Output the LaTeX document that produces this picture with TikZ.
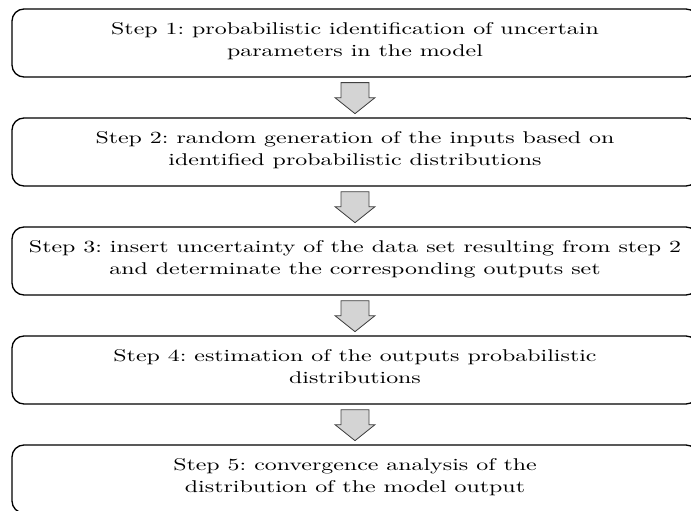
\documentclass[tikz,border=0pt]{standalone}
\usetikzlibrary{calc}
\newcommand{\steptext}[2]{\scalebox{2.39}[1.7]{\fontsize{10}{12.95}\selectfont\frenchspacing\begin{tabular}{@{}c@{}}#1\\#2\end{tabular}}}
\begin{document}
\begin{tikzpicture}[x=1pt,y=-1pt,
  stepbox/.style={draw=black, line width=1.3pt, rounded corners=12pt,
    minimum width=686pt, minimum height=68pt, inner sep=0pt, text=black},
  blockarrow/.style={draw=black!75, line width=0.8pt, fill=black!17, line join=miter}]
\useasboundingbox (0,0) rectangle (691,511);
\clip (0,0) rectangle (691,511);
\node[stepbox] (b1) at (355,43) {};
\node[stepbox] (b2) at (355,152) {};
\node[stepbox] (b3) at (355,261) {};
\node[stepbox] (b4) at (355,370) {};
\node[stepbox] (b5) at (355,479) {};
\node (t1) at ($(b1.center)+(0,-1.5)$) {\steptext{Step 1: probabilistic identification of uncertain}{parameters in the model}};
\node (t2) at ($(b2.center)+(0,-1.5)$) {\steptext{Step 2: random generation of the inputs based on}{identified probabilistic distributions}};
\node (t3) at ($(b3.center)+(0,-1.5)$) {\steptext{Step 3: insert uncertainty of the data set resulting from step 2}{and determinate the corresponding outputs set}};
\node (t4) at ($(b4.center)+(0,-1.5)$) {\steptext{Step 4: estimation of the outputs probabilistic}{distributions}};
\node (t5) at ($(b5.center)+(0,-1.5)$) {\steptext{Step 5: convergence analysis of the}{distribution of the model output}};
\foreach \a in {b1,b2,b3,b4}{
  \draw[blockarrow] ($(\a.south)+(-14,5)$) -- ($(\a.south)+(14,5)$) -- ($(\a.south)+(14,20)$)
    -- ($(\a.south)+(20,20)$) -- ($(\a.south)+(0,36)$) -- ($(\a.south)+(-20,20)$)
    -- ($(\a.south)+(-14,20)$) -- cycle;
}
\end{tikzpicture}
\end{document}
